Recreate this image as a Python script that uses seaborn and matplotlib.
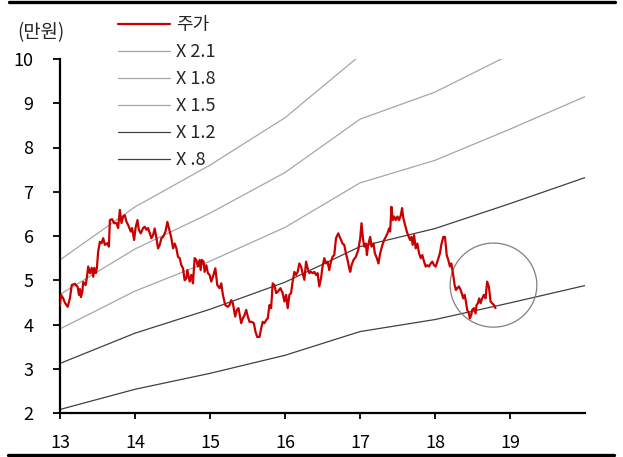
import matplotlib
matplotlib.use("Agg")
import matplotlib.pyplot as plt
from matplotlib.lines import Line2D
from matplotlib.patches import Ellipse
import numpy as np
import pandas as pd
import seaborn as sns

# Book value per share (만원) at each year start, used for the PBR bands
bps_years = [13, 14, 15, 16, 17, 18, 19, 20]
bps_values = [2.60, 3.17, 3.62, 4.13, 4.80, 5.14, 5.61, 6.10]

band_labels = ["X 2.1", "X 1.8", "X 1.5", "X 1.2", "X .8"]
band_multiples = [2.1, 1.8, 1.5, 1.2, 0.8]
band_colors = ["#a6a6a6", "#a6a6a6", "#a6a6a6", "#404040", "#404040"]

# Share price (만원) by fractional year
price_years = [
    13.000, 13.013, 13.040, 13.066, 13.102, 13.133, 13.156, 13.199, 13.235, 13.253,
    13.266, 13.279, 13.297, 13.310, 13.342, 13.359, 13.376, 13.399, 13.422, 13.443,
    13.456, 13.479, 13.492, 13.509, 13.532, 13.555, 13.576, 13.598, 13.634, 13.652,
    13.665, 13.695, 13.722, 13.754, 13.775, 13.798, 13.820, 13.842, 13.864, 13.887,
    13.908, 13.944, 13.961, 13.988, 14.007, 14.033, 14.051, 14.077, 14.108, 14.130,
    14.153, 14.174, 14.219, 14.241, 14.263, 14.286, 14.307, 14.330, 14.352, 14.374,
    14.406, 14.432, 14.463, 14.485, 14.507, 14.529, 14.552, 14.573, 14.596, 14.618,
    14.640, 14.662, 14.684, 14.698, 14.729, 14.751, 14.773,
    14.795, 14.818, 14.839, 14.862, 14.875, 14.892, 14.915, 14.928, 14.951, 14.972,
    14.995, 15.017, 15.039, 15.071, 15.097, 15.128, 15.150, 15.172, 15.203, 15.238,
    15.261, 15.283, 15.305, 15.336, 15.358, 15.380, 15.416, 15.438, 15.460, 15.483,
    15.504, 15.527, 15.557, 15.584, 15.606, 15.629, 15.660, 15.682, 15.703, 15.726,
    15.749, 15.770, 15.793, 15.815, 15.836, 15.859, 15.882, 15.903, 15.939, 15.969,
    15.992, 16.015, 16.036, 16.059, 16.081, 16.102, 16.125, 16.148, 16.169, 16.191,
    16.214, 16.235, 16.258, 16.281, 16.302, 16.324, 16.347, 16.368, 16.391, 16.414,
    16.435, 16.457, 16.480, 16.501, 16.524, 16.547, 16.568, 16.590, 16.613, 16.634,
    16.657, 16.680, 16.710, 16.737, 16.767, 16.790, 16.812, 16.834, 16.856, 16.870,
    16.887, 16.914, 16.945, 16.976, 17.003, 17.020, 17.039, 17.056, 17.078, 17.092,
    17.109, 17.136, 17.153, 17.180, 17.198, 17.225, 17.246, 17.269, 17.299, 17.322,
    17.344, 17.366, 17.388, 17.402, 17.419, 17.438, 17.455, 17.477, 17.499, 17.521,
    17.544, 17.561, 17.578, 17.601, 17.624, 17.641, 17.668, 17.685, 17.703, 17.721,
    17.743, 17.765, 17.787, 17.810, 17.831, 17.854, 17.876, 17.898, 17.920, 17.943,
    17.964, 17.987, 18.009, 18.031, 18.066, 18.084, 18.110, 18.133, 18.156, 18.177,
    18.199, 18.217, 18.243, 18.262, 18.279, 18.297, 18.319, 18.342, 18.363, 18.376,
    18.395, 18.412, 18.429, 18.452, 18.465, 18.483, 18.496, 18.519, 18.541, 18.554,
    18.572, 18.589, 18.608, 18.629, 18.652, 18.674, 18.695, 18.718, 18.741, 18.762,
    18.785, 18.807,
]
price_values = [
    4.44, 4.67, 4.60, 4.49, 4.40, 4.60, 4.89, 4.92, 4.85, 4.67,
    4.80, 4.62, 4.73, 4.96, 4.89, 5.07, 5.31, 5.16, 5.28, 5.08,
    5.28, 5.16, 5.28, 5.65, 5.87, 5.84, 5.95, 5.80, 5.84, 5.76,
    6.36, 6.38, 6.29, 6.29, 6.18, 6.59, 6.29, 6.44, 6.47, 6.32,
    6.25, 6.10, 6.18, 5.91, 6.18, 6.36, 6.14, 6.06, 6.18, 6.21,
    6.14, 6.18, 5.95, 6.02, 6.17, 5.95, 5.72, 5.80, 5.95, 5.98,
    6.10, 6.32, 6.10, 5.95, 5.72, 5.83, 5.72, 5.53, 5.50, 5.34,
    5.27, 5.00, 5.04, 5.23, 4.97, 5.12, 4.93,
    5.50, 5.46, 5.31, 5.46, 5.23, 5.46, 5.42, 5.19, 5.34, 5.16,
    5.12, 4.97, 5.08, 5.27, 4.89, 4.82, 4.93, 4.67, 4.44, 4.40,
    4.44, 4.55, 4.48, 4.18, 4.33, 4.37, 4.03, 4.14, 4.21, 4.33,
    4.18, 4.06, 4.06, 4.03, 3.84, 3.72, 3.72, 3.91, 4.06, 4.03,
    4.10, 4.14, 4.44, 4.37, 4.93, 4.89, 4.71, 4.74, 4.82, 4.71,
    4.52, 4.67, 4.37, 4.67, 4.71, 4.97, 5.19, 5.12, 5.19, 5.38,
    5.31, 5.16, 5.01, 5.42, 5.27, 5.16, 5.19, 5.16, 5.19, 5.12,
    5.16, 4.86, 5.04, 5.31, 5.50, 5.38, 5.42, 5.23, 5.42, 5.53,
    5.57, 5.95, 6.06, 5.95, 5.83, 5.80, 5.61, 5.46, 5.27, 5.19,
    5.34, 5.46, 5.53, 5.68, 5.95, 6.29, 5.95, 5.76, 5.83, 5.57,
    5.80, 5.98, 5.76, 5.83, 5.61, 5.50, 5.38, 5.61, 5.80, 5.91,
    5.98, 6.06, 6.17, 6.10, 6.66, 6.36, 6.44, 6.36, 6.44, 6.36,
    6.47, 6.63, 6.40, 6.25, 6.10, 6.02, 5.91, 5.98, 5.80, 6.02,
    5.72, 5.83, 5.61, 5.50, 5.57, 5.42, 5.31, 5.34, 5.31, 5.38,
    5.42, 5.34, 5.31, 5.42, 5.61, 5.80, 5.98, 5.98, 5.57, 5.46,
    5.31, 5.38, 5.12, 4.89, 4.78, 4.82, 4.86, 4.78, 4.67, 4.59,
    4.67, 4.52, 4.33, 4.25, 4.14, 4.21, 4.33, 4.37, 4.25, 4.44,
    4.48, 4.59, 4.48, 4.59, 4.67, 4.59, 4.97, 4.86, 4.52, 4.48,
    4.44, 4.37,
]

x_ticks = [13, 14, 15, 16, 17, 18, 19]
y_ticks = [2, 3, 4, 5, 6, 7, 8, 9, 10]

sns.set_style("white")
plt.rcParams["font.family"] = ["Noto Sans CJK KR", "DejaVu Sans"]
plt.rcParams["axes.unicode_minus"] = False

W, H = 623, 457
fig = plt.figure(figsize=(W / 100, H / 100), dpi=100)
ax = fig.add_axes([60 / W, 1 - 413 / H, (585 - 60) / W, (413 - 59) / H])

price_df = pd.DataFrame({"year": price_years, "price": price_values})
sns.lineplot(data=price_df, x="year", y="price", ax=ax, color="#c80000",
             linewidth=1.6, sort=False, estimator=None, zorder=4, label="주가")

bps = np.array(bps_values)
for lbl, mult, col in zip(band_labels, band_multiples, band_colors):
    band_df = pd.DataFrame({"year": bps_years, "value": bps * mult})
    sns.lineplot(data=band_df, x="year", y="value", ax=ax, color=col,
                 linewidth=0.9, sort=False, estimator=None, zorder=2, label=lbl)

# highlight ring around the latest price move
ax.add_patch(Ellipse((18.78, 4.89), width=1.156, height=1.90, fill=False,
                     edgecolor="#7f7f7f", linewidth=0.9, zorder=3))

ax.set_xlim(13, 20)
ax.set_ylim(2, 10)
ax.set_xticks(x_ticks)
ax.set_yticks(y_ticks)
ax.set_xticklabels([str(t) for t in x_ticks])
ax.set_yticklabels([str(t) for t in y_ticks])
ax.set_xlabel("")
ax.set_ylabel("")

for side in ["top", "right"]:
    ax.spines[side].set_visible(False)
for side in ["left", "bottom"]:
    ax.spines[side].set_color("black")
    ax.spines[side].set_linewidth(1.6)

ax.tick_params(axis="y", direction="out", length=5, width=1.3, color="black",
               pad=14, labelsize=13, labelcolor="black", left=True)
ax.tick_params(axis="x", direction="out", length=4, width=1.3, color="black",
               pad=11, labelsize=13, labelcolor="black", bottom=True)

handles, labels = ax.get_legend_handles_labels()
ax.legend(handles, labels, loc="upper left",
          bbox_to_anchor=(118 / W, 1 - 16 / H), bbox_transform=fig.transFigure,
          frameon=False, fontsize=13, handlelength=2.9, handletextpad=0.3,
          labelspacing=0.50, borderpad=0, borderaxespad=0)

fig.text(17 / W, 1 - 33 / H, "(만원)", fontsize=13.5, ha="left", va="center")

# heavy rules framing the chart
fig.add_artist(Line2D([9 / W, 615 / W], [1 - 1.5 / H, 1 - 1.5 / H],
                      transform=fig.transFigure, color="black", linewidth=2.4))
fig.add_artist(Line2D([8 / W, 614 / W], [1 - 455 / H, 1 - 455 / H],
                      transform=fig.transFigure, color="black", linewidth=2.4))

fig.savefig("out.png", dpi=100)
